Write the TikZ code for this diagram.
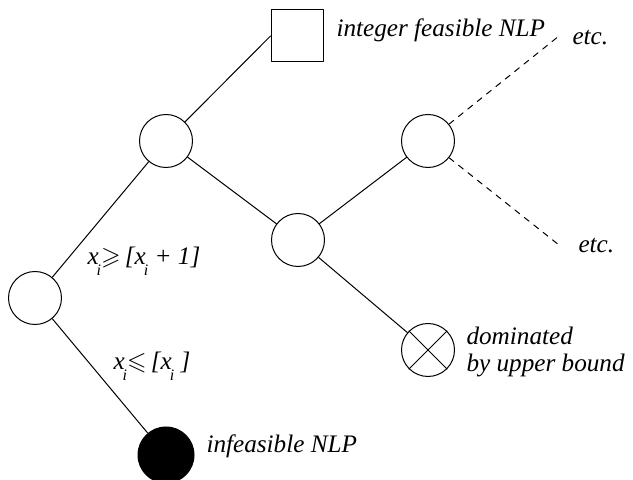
\documentclass[tikz,border=0pt]{standalone}
\usepackage{fontspec}
\usepackage{amssymb}
\setmainfont{Liberation Serif}
\newcommand{\xsub}{\textit{x}\kern-1pt\raisebox{-5.5pt}{\fontsize{8}{8}\selectfont\textit{i}}}
\begin{document}
\begin{tikzpicture}[x=0.5pt, y=-0.5pt, line join=round, line cap=round, line width=0.5pt,
		nd/.style={draw, circle, minimum size=26.5pt, inner sep=0pt},
		sq/.style={draw, rectangle, minimum size=26pt, inner sep=0pt},
		lbl/.style={anchor=base west, inner sep=0pt, font=\fontsize{12.6}{13.5}\selectfont\itshape}]
	\useasboundingbox (0,0) rectangle (633,480);
	\node[sq] (top) at (297,36) {};
	\node[nd] (a) at (166,141) {};
	\node[nd] (b) at (35,298) {};
	\node[nd, fill=black, minimum size=28pt] (c) at (166,455) {};
	\node[nd] (d) at (298,240) {};
	\node[nd] (e) at (428,141) {};
	\node[nd] (f) at (428,350) {};
	\draw (f.north west) -- (f.south east);
	\draw (f.north east) -- (f.south west);
	\coordinate (etc1) at (559,36);
	\coordinate (etc2) at (559,245);
	\draw (b) -- (a);
	\draw (a) -- (top.west);
	\draw (a) -- (d);
	\draw (d) -- (e);
	\draw (d) -- (f);
	\draw (b) -- (c);
	\draw[dashed] (e) -- (etc1);
	\draw[dashed] (e) -- (etc2);
	\node[lbl] (ltop) at (336,37) {integer feasible NLP};
	\node[lbl] (letc1) at (572,45) {etc.};
	\node[lbl] (letc2) at (578,253) {etc.};
	\node[lbl] (lge) at (87,265) {\xsub$\geqslant$\,[\xsub\ + 1]};
	\node[lbl] (lle) at (113,370) {\xsub$\leqslant$\,[\xsub\ ]};
	\node[lbl, anchor=west, align=left] (ldom) at (466,352) {dominated\\by upper bound};
	\node[lbl] (linf) at (206,453) {infeasible NLP};
\end{tikzpicture}
\end{document}
